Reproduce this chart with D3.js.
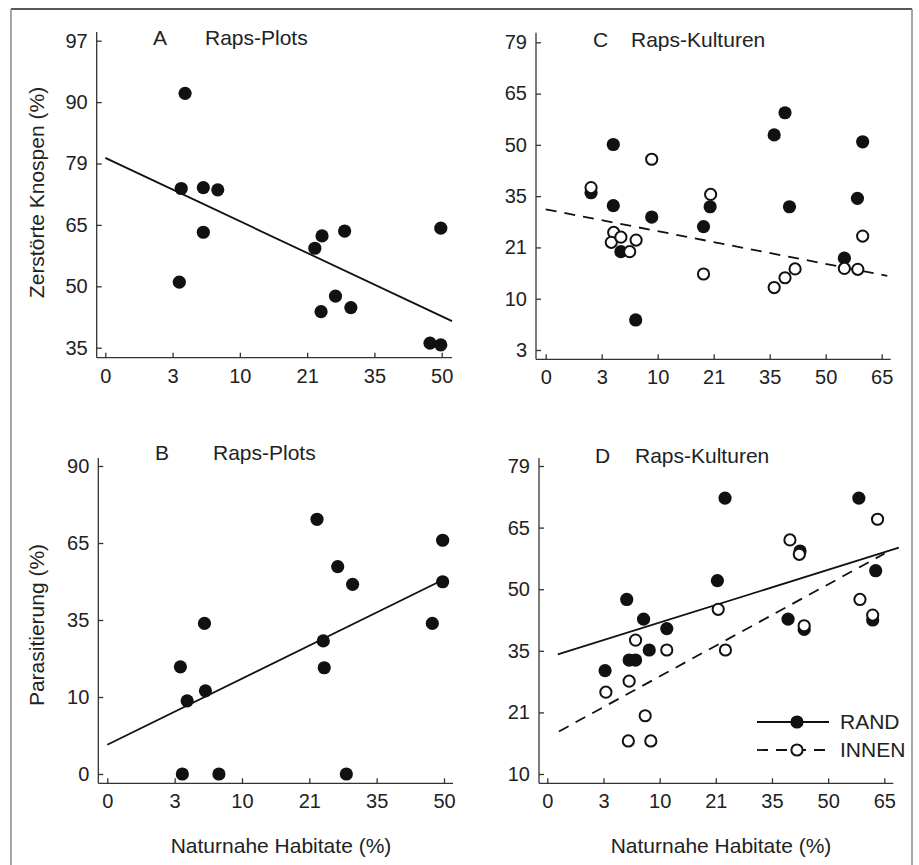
<!DOCTYPE html>
<meta charset="utf-8">
<style>
body { margin: 0; background: #fff; }
svg { font-family: "Liberation Sans", Arial, sans-serif; }
.axis text { font-size: 20px; fill: #222; }
.axis line { stroke: #333; stroke-width: 1.3px; }
.axis path { display: none; }
.title { font-size: 21px; fill: #222; }
.fit { fill: none; stroke: #111; stroke-width: 1.8px; }
.fit.dash { stroke-dasharray: 11,8; }
</style>
<body>
<script src="https://cdn.jsdelivr.net/npm/d3@7"></script>
<script>
// tick labels (axes are arcsine-spaced, ticks sit at equal steps)
var xTicksPlots = [0, 3, 10, 21, 35, 50];
var xTicksKult = [0, 3, 10, 21, 35, 50, 65];
var yTicksA = [35, 50, 65, 79, 90, 97];
var yTicksB = [0, 10, 35, 65, 90];
var yTicksC = [3, 10, 21, 35, 50, 65, 79];
var yTicksD = [10, 21, 35, 50, 65, 79];

// A: Zerstörte Knospen, Raps-Plots  [habitat %, value %]
var dataA = [[4.3,91],[3.9,73.3],[6.2,73.5],[7.7,73],[6.2,63.2],[3.7,51],
  [22.6,59.3],[24.1,62.3],[28.8,63.5],[23.9,43.8],[26.9,47.6],[30.1,44.8],
  [49.8,64.2],[47.4,36.1],[49.8,35.7]];
var fitA = [[0,80],[52.3,41.5]];

// B: Parasitierung, Raps-Plots
var dataB = [[22.6,72.7],[49.7,65.9],[26.9,55.8],[30,48.9],[49.7,49.9],[47.4,33.9],
  [6.1,33.9],[23.9,28.2],[24.1,19.5],[3.6,19.8],[6.2,12],[4.3,9.5],
  [3.8,0],[7.6,0],[28.7,0]];
var fitB = [[0,3.8],[49.7,50.6]];

// C: Zerstörte Knospen, Raps-Kulturen
var randC = [[4.45,50.1],[4.45,32.4],[2.43,36],[5.4,20.1],[7.25,7.1],[9.25,29.3],
  [19,26.7],[20.3,32.1],[36.2,52.9],[39.1,59.4],[40.3,32.1],[59.9,50.9],
  [58.5,34.4],[55,18.7]];
var innenC = [[2.43,37.5],[9.25,45.8],[20.4,35.5],[4.5,25.1],[4.2,22.4],[5.4,23.8],
  [7.3,23],[6.5,20.1],[19,15.3],[36.2,12.4],[39.1,14.5],[41.8,16.4],
  [55,16.5],[58.6,16.3],[59.9,24.1]];
var fitC = [[0,31.4],[66.5,14.9]];

// D: Parasitierung, Raps-Kulturen
var randD = [[23.3,71.7],[58.2,71.7],[21.4,52.1],[62.7,54.5],[5.9,47.5],[8,42.7],
  [11.4,40.4],[8.7,35.2],[6.2,32.9],[7,32.9],[3.2,30.5],[39.3,42.7],
  [43.6,40.2],[42.5,59.3],[61.9,42.5]];
var innenD = [[63.2,66.9],[39.8,62],[42.3,58.5],[58.5,47.5],[61.9,43.7],[43.6,41.1],
  [21.6,45.1],[23.4,35.2],[11.4,35.2],[7,37.6],[6.2,28.1],[3.3,25.6],
  [8.2,20.4],[6.1,15.9],[8.9,15.9]];
var fitRandD = [[0.56,34.2],[68.9,60.1]];
var fitInnenD = [[0.62,17.6],[65.1,58.7]];

var svg = d3.select("body").append("svg")
    .attr("width", 919)
    .attr("height", 865);

// outer frame
svg.append("line").attr("x1", 11).attr("x2", 912).attr("y1", 9).attr("y2", 9)
    .attr("stroke", "#222").attr("stroke-width", 1.5);
svg.append("line").attr("x1", 11).attr("x2", 11).attr("y1", 9).attr("y2", 865)
    .attr("stroke", "#888").attr("stroke-width", 1.5);
svg.append("line").attr("x1", 912).attr("x2", 912).attr("y1", 9).attr("y2", 865)
    .attr("stroke", "#888").attr("stroke-width", 1.5);

function stepScale(ticks, r0, r1) {
  var n = ticks.length - 1;
  return d3.scaleLinear()
    .domain(ticks)
    .range(ticks.map(function(d, i) { return r0 + i * (r1 - r0) / n; }));
}

var line = d3.line();

function panel(p) {
  var x = stepScale(p.xTicks, p.xr[0], p.xr[1]);
  var y = stepScale(p.yTicks, p.yr[0], p.yr[1]);
  var g = svg.append("g");

  g.append("line").attr("x1", p.ax).attr("x2", p.ax).attr("y1", p.top).attr("y2", p.ay)
      .attr("stroke", "#333").attr("stroke-width", 1.3);
  g.append("line").attr("x1", p.ax).attr("x2", p.right).attr("y1", p.ay).attr("y2", p.ay)
      .attr("stroke", "#333").attr("stroke-width", 1.3);

  g.append("g")
      .attr("class", "axis")
      .attr("transform", "translate(0," + p.ay + ")")
      .call(d3.axisBottom(x).tickValues(p.xTicks).tickFormat(d3.format("d"))
        .tickSizeInner(-5).tickSizeOuter(0).tickPadding(11));
  g.append("g")
      .attr("class", "axis")
      .attr("transform", "translate(" + p.ax + ",0)")
      .call(d3.axisLeft(y).tickValues(p.yTicks).tickFormat(d3.format("d"))
        .tickSizeInner(-5).tickSizeOuter(0).tickPadding(9));

  g.append("text").attr("class", "title").attr("x", p.lx).attr("y", p.ty).text(p.letter);
  g.append("text").attr("class", "title").attr("x", p.nx).attr("y", p.ty).text(p.name);

  p.fits.forEach(function(f) {
    g.append("path")
        .attr("class", f.dash ? "fit dash" : "fit")
        .attr("d", line(f.pts.map(function(d) { return [x(d[0]), y(d[1])]; })));
  });

  g.append("g").selectAll("circle")
      .data(p.filled)
    .enter().append("circle")
      .attr("cx", function(d) { return x(d[0]); })
      .attr("cy", function(d) { return y(d[1]); })
      .attr("r", 6.6)
      .attr("fill", "#111");

  g.append("g").selectAll("circle")
      .data(p.open || [])
    .enter().append("circle")
      .attr("cx", function(d) { return x(d[0]); })
      .attr("cy", function(d) { return y(d[1]); })
      .attr("r", 5.6)
      .attr("fill", "#fff")
      .attr("stroke", "#111")
      .attr("stroke-width", 2);
}

panel({ xTicks: xTicksPlots, yTicks: yTicksA, xr: [105.3, 441.7], yr: [347.7, 40.7],
  ax: 96.7, ay: 357.7, top: 32, right: 452,
  letter: "A", name: "Raps-Plots", lx: 153, nx: 205, ty: 45,
  fits: [{ pts: fitA }], filled: dataA });

panel({ xTicks: xTicksPlots, yTicks: yTicksB, xr: [107.3, 444], yr: [774, 466],
  ax: 98.3, ay: 783.3, top: 458, right: 453,
  letter: "B", name: "Raps-Plots", lx: 155, nx: 213, ty: 460,
  fits: [{ pts: fitB }], filled: dataB });

panel({ xTicks: xTicksKult, yTicks: yTicksC, xr: [545.7, 881.7], yr: [350, 42.3],
  ax: 536, ay: 359.3, top: 32.7, right: 890.7,
  letter: "C", name: "Raps-Kulturen", lx: 593, nx: 631, ty: 46.7,
  fits: [{ pts: fitC, dash: true }], filled: randC, open: innenC });

panel({ xTicks: xTicksKult, yTicks: yTicksD, xr: [547.3, 884.3], yr: [774, 466],
  ax: 539, ay: 783.3, top: 458, right: 893.3,
  letter: "D", name: "Raps-Kulturen", lx: 595, nx: 635, ty: 463,
  fits: [{ pts: fitRandD }, { pts: fitInnenD, dash: true }], filled: randD, open: innenD });

// axis titles
svg.append("text").attr("class", "title")
    .attr("transform", "translate(44,192.5) rotate(-90)")
    .attr("text-anchor", "middle")
    .text("Zerstörte Knospen (%)");
svg.append("text").attr("class", "title")
    .attr("transform", "translate(44,625) rotate(-90)")
    .attr("text-anchor", "middle")
    .text("Parasitierung (%)");
svg.append("text").attr("class", "title")
    .attr("x", 281).attr("y", 853).attr("text-anchor", "middle")
    .text("Naturnahe Habitate (%)");
svg.append("text").attr("class", "title")
    .attr("x", 721).attr("y", 853).attr("text-anchor", "middle")
    .text("Naturnahe Habitate (%)");

// legend in D
var legend = svg.append("g").attr("transform", "translate(757,722)");
var legendItems = [{ label: "RAND", dash: false }, { label: "INNEN", dash: true }];
var li = legend.selectAll("g")
    .data(legendItems)
  .enter().append("g")
    .attr("transform", function(d, i) { return "translate(0," + i * 28 + ")"; });
li.append("line")
    .attr("x1", 0).attr("x2", 72)
    .attr("class", function(d) { return d.dash ? "fit dash" : "fit"; });
li.append("circle")
    .attr("cx", 40).attr("r", function(d) { return d.dash ? 5.6 : 6.6; })
    .attr("fill", function(d) { return d.dash ? "#fff" : "#111"; })
    .attr("stroke", "#111")
    .attr("stroke-width", function(d) { return d.dash ? 2 : 0; });
li.append("text")
    .attr("class", "title")
    .attr("x", 83).attr("dy", "0.35em")
    .text(function(d) { return d.label; });
</script>
</body>
